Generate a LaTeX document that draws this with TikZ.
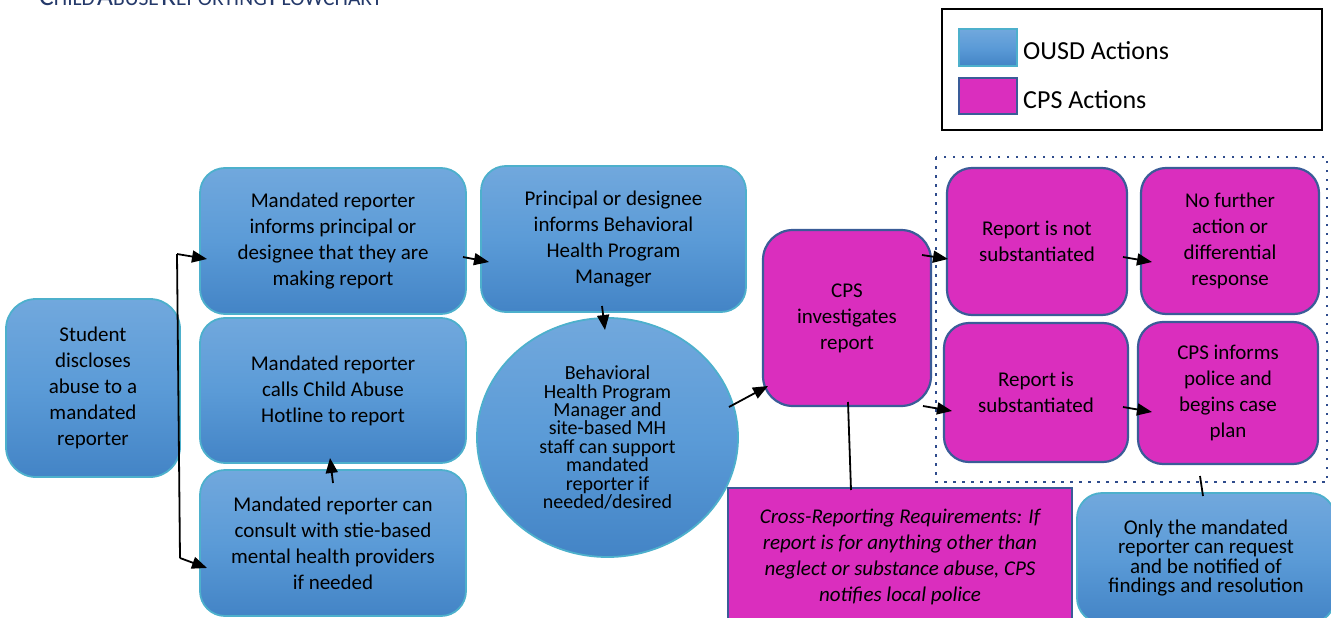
\documentclass[tikz,border=0pt]{standalone}
\usepackage{fontspec}
\setmainfont{Carlito}
\usetikzlibrary{shapes.geometric,arrows.meta}
\definecolor{bluetop}{HTML}{71A8DD}
\definecolor{bluemid}{HTML}{5B9BD7}
\definecolor{bluebot}{HTML}{4384C6}
\definecolor{ousdborder}{HTML}{4DB0CC}
\definecolor{cpsfill}{HTML}{DA2EBE}
\definecolor{cpsborder}{HTML}{3A5C98}
\definecolor{dotblue}{HTML}{2F4C8C}
\definecolor{titleblue}{HTML}{24396A}
\begin{document}
\begin{tikzpicture}[x=1pt,y=-1pt,
  ousd/.style={draw=ousdborder, line width=1.8pt, rounded corners=25pt,
    top color=bluetop, bottom color=bluebot, middle color=bluemid,
    align=center, inner sep=0pt, text=black, font=\fontsize{21}{26}\selectfont},
  cps/.style={draw=cpsborder, line width=2.2pt, rounded corners=25pt, fill=cpsfill,
    align=center, inner sep=0pt, text=black, font=\fontsize{21}{26}\selectfont},
  arr/.style={-{Triangle[length=15pt,width=12pt]}, line width=1.8pt, black},
  link/.style={line width=1.8pt, black},
  legtext/.style={anchor=base west, inner sep=0pt, font=\fontsize{26}{30}\selectfont}]
\useasboundingbox (0,0) rectangle (1331,618);
\clip (0,0) rectangle (1331,618);

% title
\node[anchor=base west, inner sep=0pt, text=titleblue] (title) at (39,6)
  {{\fontsize{27.5}{27.5}\selectfont C}{\fontsize{21.5}{27.5}\selectfont HILD}
   {\fontsize{27.5}{27.5}\selectfont A}{\fontsize{21.5}{27.5}\selectfont BUSE}
   {\fontsize{27.5}{27.5}\selectfont R}{\fontsize{21.5}{27.5}\selectfont EPORTING}
   {\fontsize{27.5}{27.5}\selectfont F}{\fontsize{21.5}{27.5}\selectfont LOWCHART}};

% legend
\node[draw=black, line width=2pt, minimum width=380pt, minimum height=121pt, inner sep=0pt] (legend) at (1132,69.5) {};
\node[draw=ousdborder, line width=1.8pt, top color=bluetop, bottom color=bluebot, middle color=bluemid,
  minimum width=58pt, minimum height=37pt, inner sep=0pt] (swblue) at (988,47.5) {};
\node[draw=cpsborder, line width=1.8pt, fill=cpsfill,
  minimum width=58pt, minimum height=36pt, inner sep=0pt] (swmag) at (988,96) {};
\node[legtext] (lousd) at (1023,59.5) {OUSD Actions};
\node[legtext] (lcps) at (1023,108) {CPS Actions};

% dotted group
\draw[dotblue, line width=2.5pt, dash pattern=on 2.5pt off 6.5pt] (936,157) rectangle (1327,482);

% OUSD nodes
\node[ousd, rounded corners=30pt, minimum width=174pt, minimum height=178pt] (student) at (93,388)
  {Student\\discloses\\abuse to a\\mandated\\reporter};
\node[ousd, minimum width=266pt, minimum height=146pt] (A) at (333,241)
  {Mandated reporter\\informs principal or\\designee that they are\\making report};
\node[ousd, minimum width=266pt, minimum height=145pt] (B) at (333,390.5)
  {Mandated reporter\\calls Child Abuse\\Hotline to report};
\node[ousd, minimum width=266pt, minimum height=146pt] (C) at (333,543)
  {Mandated reporter can\\consult with stie-based\\mental health providers\\if needed};
\node[ousd, minimum width=265pt, minimum height=146pt] (D) at (613.5,239)
  {Principal or designee\\informs Behavioral\\Health Program\\Manager};
\node[ousd, ellipse, rounded corners=0pt, minimum width=261pt, minimum height=239pt,
  font=\fontsize{20}{18.4}\selectfont] (E) at (607.5,437.5)
  {Behavioral\\Health Program\\Manager and\\site-based MH\\staff can support\\mandated\\reporter if\\needed/desired};
\node[ousd, minimum width=258pt, minimum height=130pt, font=\fontsize{21}{19.5}\selectfont] (L) at (1206,558)
  {Only the mandated\\reporter can request\\and be notified of\\findings and resolution};

% CPS nodes
\node[cps, rounded corners=30pt, minimum width=168pt, minimum height=176pt] (F) at (847,318)
  {CPS\\investigates\\report};
\node[cps, minimum width=180pt, minimum height=147pt] (G) at (1037,241.5)
  {Report is not\\substantiated};
\node[cps, minimum width=178pt, minimum height=146pt] (H) at (1230,241)
  {No further\\action or\\differential\\response};
\node[cps, minimum width=184pt, minimum height=139pt] (I) at (1036,392.5)
  {Report is\\substantiated};
\node[cps, minimum width=180pt, minimum height=142pt] (J) at (1228,393)
  {CPS informs\\police and\\begins case\\plan};
\node[cps, rounded corners=0pt, minimum width=344pt, minimum height=138pt,
  font=\fontsize{21}{26}\selectfont\itshape] (K) at (900,557)
  {Cross-Reporting Requirements: If\\report is for anything other than\\neglect or substance abuse, CPS\\notifies local police};

% connector coordinates
\coordinate (bt) at (177,254);
\coordinate (bb) at (180,558);
\coordinate (ta) at (207,259);
\coordinate (tc) at (207,568);
\coordinate (ad1) at (463,257);
\coordinate (ad2) at (489,262);
\coordinate (de1) at (602,306);
\coordinate (de2) at (605,330);
\coordinate (cb1) at (333,483);
\coordinate (cb2) at (330,458);
\coordinate (ef1) at (729,407);
\coordinate (ef2) at (768,386);
\coordinate (fg1) at (922,255);
\coordinate (fg2) at (948,259);
\coordinate (fi1) at (923,406);
\coordinate (fi2) at (952,411);
\coordinate (gh1) at (1123,257);
\coordinate (gh2) at (1152,262);
\coordinate (ij1) at (1123,407);
\coordinate (ij2) at (1152,412);
\coordinate (fk1) at (848,402);
\coordinate (fk2) at (851,490);
\coordinate (jl1) at (1200,476);
\coordinate (jl2) at (1203,496);

% connectors
\draw[link] (bt) -- (bb);
\draw[arr] (bt) -- (ta);
\draw[arr] (bb) -- (tc);
\draw[arr] (ad1) -- (ad2);
\draw[arr] (de1) -- (de2);
\draw[arr] (cb1) -- (cb2);
\draw[arr] (ef1) -- (ef2);
\draw[arr] (fg1) -- (fg2);
\draw[arr] (fi1) -- (fi2);
\draw[arr] (gh1) -- (gh2);
\draw[arr] (ij1) -- (ij2);
\draw[link] (fk1) -- (fk2);
\draw[link] (jl1) -- (jl2);
\end{tikzpicture}
\end{document}
